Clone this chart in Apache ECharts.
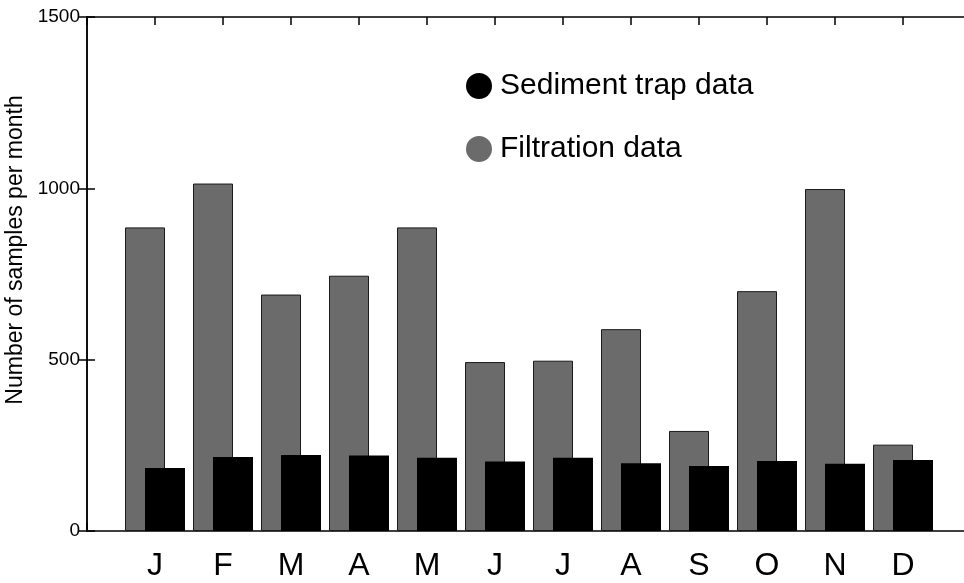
<!DOCTYPE html>
<html>
<head>
<meta charset="utf-8">
<script src="https://cdn.jsdelivr.net/npm/echarts@6/dist/echarts.min.js"></script>
<style>html,body{margin:0;padding:0;background:#fff}#c{width:964px;height:583px}</style>
</head>
<body>
<div id="c"></div>
<script>
const months = ['J','F','M','A','M','J','J','A','S','O','N','D'];
const filtration = [886, 1014, 690, 745, 886, 493, 497, 589, 292, 700, 998, 252];
const sedimentTrap = [184, 216, 222, 220, 214, 203, 214, 198, 190, 204, 196, 207];
const yTicks = [0, 500, 1000, 1500];

const FONT = '"Liberation Sans", Arial, Helvetica, sans-serif';
const chart = echarts.init(document.getElementById('c'), null, {renderer: 'canvas'});

const xBase = {
  type: 'value', min: 0, max: 13, interval: 1,
  axisLine: {show: true, onZero: false, lineStyle: {color: '#000', width: 1.5}},
  axisTick: {show: true, inside: true, length: 8, lineStyle: {color: '#000', width: 1.5}},
  splitLine: {show: false}
};

chart.setOption({
  animation: false,
  backgroundColor: '#fff',
  textStyle: {fontFamily: FONT},
  grid: {left: 87, top: 17, width: 884, height: 514, containLabel: false, outerBoundsMode: 'none'},
  legend: {
    orient: 'vertical', left: 461, top: 66,
    icon: 'circle', itemWidth: 26, itemHeight: 26, itemGap: 33,
    textStyle: {fontFamily: FONT, fontSize: 30, lineHeight: 30, color: '#000', padding: [0, 0, 0, 3]},
    data: [
      {name: 'Sediment trap data', itemStyle: {borderWidth: 0, color: '#000'}},
      {name: 'Filtration data', itemStyle: {borderWidth: 0, color: '#6b6b6b'}}
    ]
  },
  xAxis: [
    Object.assign({}, xBase, {
      position: 'bottom',
      axisLabel: {
        show: true, margin: 19, fontSize: 32, color: '#000', fontFamily: FONT,
        formatter: v => months[v - 1] || ''
      }
    }),
    Object.assign({}, xBase, {position: 'top', axisLabel: {show: false}})
  ],
  yAxis: [
    {
      type: 'value', min: 0, max: 1500, interval: 500, position: 'left',
      name: 'Number of samples per month', nameLocation: 'middle', nameGap: 56,
      nameTextStyle: {fontSize: 23, color: '#000', fontFamily: FONT, padding: [0, 0, 0, 48]},
      axisLine: {show: true, lineStyle: {color: '#000', width: 1.5}},
      axisTick: {show: true, inside: true, length: 8, lineStyle: {color: '#000', width: 1.5}},
      axisLabel: {fontSize: 19, color: '#000', margin: 7, fontFamily: FONT,
        formatter: v => yTicks.includes(v) ? String(v) : ''},
      splitLine: {show: false}
    },
    {
      type: 'value', min: 0, max: 1500, interval: 500, position: 'right',
      axisLine: {show: true, lineStyle: {color: '#000', width: 1.5}},
      axisTick: {show: true, inside: true, length: 8, lineStyle: {color: '#000', width: 1.5}},
      axisLabel: {show: false},
      splitLine: {show: false}
    }
  ],
  series: [
    {
      name: 'Filtration data', type: 'bar', xAxisIndex: 0, yAxisIndex: 0,
      barWidth: 40, barGap: '-50%',
      itemStyle: {color: '#6b6b6b', borderColor: '#1a1a1a', borderWidth: 1},
      data: filtration.map((v, i) => [i + 1, v])
    },
    {
      name: 'Sediment trap data', type: 'bar', xAxisIndex: 0, yAxisIndex: 0,
      barWidth: 40, barGap: '-50%',
      itemStyle: {color: '#000'},
      data: sedimentTrap.map((v, i) => [i + 1, v])
    }
  ]
});
</script>
</body>
</html>
